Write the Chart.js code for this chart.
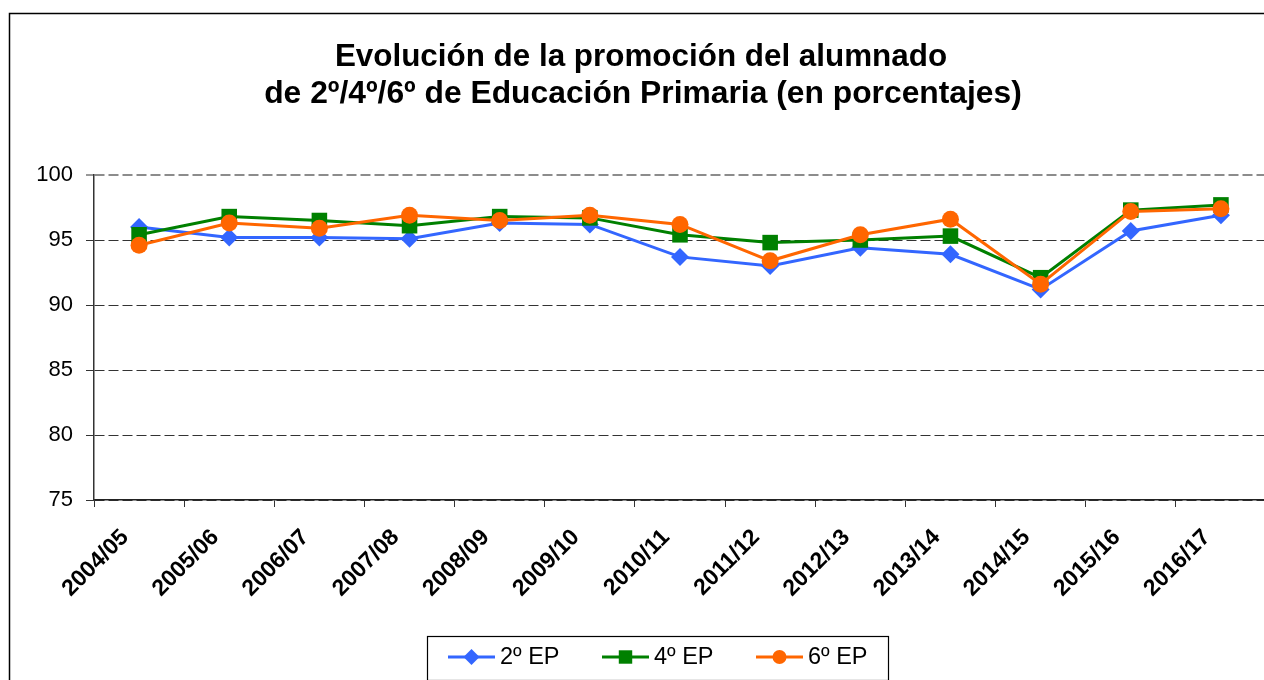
<!DOCTYPE html>
<html>
<head>
<meta charset="utf-8">
<script src="https://cdn.jsdelivr.net/npm/chart.js@4.4.1/dist/chart.umd.min.js"></script>
<style>
  html, body { margin: 0; padding: 0; background: #fff; overflow: hidden; width: 1264px; height: 680px; }
  #c { position: absolute; left: 0; top: 0; }
</style>
</head>
<body>
<canvas id="c" width="1282" height="700"></canvas>
<script>
const categories = ['2004/05','2005/06','2006/07','2007/08','2008/09','2009/10','2010/11','2011/12','2012/13','2013/14','2014/15','2015/16','2016/17'];
const ep2 = [96.0, 95.2, 95.2, 95.1, 96.3, 96.2, 93.7, 93.0, 94.4, 93.9, 91.2, 95.7, 96.9];
const ep4 = [95.4, 96.8, 96.5, 96.1, 96.8, 96.7, 95.4, 94.8, 95.0, 95.3, 92.1, 97.3, 97.7];
const ep6 = [94.6, 96.3, 95.9, 96.9, 96.5, 96.9, 96.2, 93.4, 95.4, 96.6, 91.6, 97.2, 97.4];
const seriesNames = ['2º EP', '4º EP', '6º EP'];
const yTicks = [75, 80, 85, 90, 95, 100];
const titleLines = ['Evolución de la promoción del alumnado', 'de 2º/4º/6º de Educación Primaria (en porcentajes)'];

const FONT = '"Liberation Sans", Arial, sans-serif';
const BLUE = '#3366FF', GREEN = '#008000', ORANGE = '#FF6600';

function marker(ctx, style, x, y, r, color) {
  ctx.save();
  ctx.fillStyle = color;
  ctx.beginPath();
  if (style === 'rectRot') {
    ctx.moveTo(x - r, y); ctx.lineTo(x, y - r); ctx.lineTo(x + r, y); ctx.lineTo(x, y + r); ctx.closePath();
  } else if (style === 'rect') {
    const s = r * Math.SQRT1_2;
    ctx.rect(x - s, y - s, 2 * s, 2 * s);
  } else {
    ctx.arc(x, y, r, 0, Math.PI * 2);
  }
  ctx.fill();
  ctx.restore();
}

const framePlugin = {
  id: 'frame',
  beforeDraw(chart) {
    const ctx = chart.ctx;
    ctx.save();
    ctx.fillStyle = '#fff';
    ctx.fillRect(0, 0, chart.width, chart.height);
    ctx.strokeStyle = '#000';
    ctx.lineWidth = 1.5;
    ctx.strokeRect(9.5, 13.5, chart.width + 50, chart.height + 50);
    // title
    ctx.fillStyle = '#000';
    ctx.textAlign = 'center';
    ctx.textBaseline = 'alphabetic';
    const cx = chart.width / 2;
    ctx.font = 'bold 31.4px ' + FONT;
    ctx.fillText(titleLines[0], cx, 66);
    ctx.font = 'bold 31.8px ' + FONT;
    ctx.fillText(titleLines[1], cx + 2, 103);
    ctx.restore();
  },
  afterDraw(chart) {
    const ctx = chart.ctx;
    const area = chart.chartArea;
    const top = area.bottom + 136;
    const left = 427, w = 461, h = 44;
    ctx.save();
    ctx.fillStyle = '#fff';
    ctx.fillRect(left, top, w, h);
    ctx.strokeStyle = '#000';
    ctx.lineWidth = 1.2;
    ctx.strokeRect(left + 0.5, top + 0.5, w, h);
    const midY = top + 21;
    chart.data.datasets.forEach((ds, i) => {
      const x0 = left + 21 + i * 154;
      ctx.strokeStyle = ds.borderColor;
      ctx.lineWidth = 3;
      ctx.beginPath();
      ctx.moveTo(x0, midY); ctx.lineTo(x0 + 47, midY);
      ctx.stroke();
      const r = ds.pointStyle === 'rect' ? 9.5 : (ds.pointStyle === 'rectRot' ? 8 : 7);
      marker(ctx, ds.pointStyle, x0 + 23.5, midY, r, ds.borderColor);
      ctx.fillStyle = '#000';
      ctx.font = '23.5px ' + FONT;
      ctx.textAlign = 'left';
      ctx.textBaseline = 'middle';
      ctx.fillText(ds.label, x0 + 52, midY + 1);
    });
    ctx.restore();
  }
};

const ctx = document.getElementById('c').getContext('2d');
new Chart(ctx, {
  type: 'line',
  data: {
    labels: categories,
    datasets: [
      { label: seriesNames[0], data: ep2, borderColor: BLUE, backgroundColor: BLUE, pointBackgroundColor: BLUE, pointBorderColor: BLUE, pointStyle: 'rectRot', pointRadius: 9, pointBorderWidth: 0, borderWidth: 3, order: 2, tension: 0 },
      { label: seriesNames[1], data: ep4, borderColor: GREEN, backgroundColor: GREEN, pointBackgroundColor: GREEN, pointBorderColor: GREEN, pointStyle: 'rect', pointRadius: 11, pointBorderWidth: 0, borderWidth: 3, order: 1, tension: 0 },
      { label: seriesNames[2], data: ep6, borderColor: ORANGE, backgroundColor: ORANGE, pointBackgroundColor: ORANGE, pointBorderColor: ORANGE, pointStyle: 'circle', pointRadius: 8.5, pointBorderWidth: 0, borderWidth: 3, order: 0, tension: 0 }
    ]
  },
  options: {
    responsive: false,
    animation: false,
    devicePixelRatio: 1,
    layout: { padding: { top: 175, left: 0, right: 16, bottom: 80 } },
    plugins: { legend: { display: false }, title: { display: false }, tooltip: { enabled: false } },
    scales: {
      x: {
        type: 'category',
        offset: true,
        grid: { display: true, offset: true, drawOnChartArea: false, drawTicks: true, tickLength: 7, tickColor: '#333', tickWidth: 1 },
        border: { display: true, color: '#222', width: 1.5 },
        ticks: { color: '#000', font: { family: FONT, size: 23, weight: 'bold' }, minRotation: 45, maxRotation: 45, padding: 17, labelOffset: -14, autoSkip: false },
        afterFit(scale) { scale.height = 120; }
      },
      y: {
        min: 75, max: 100,
        afterBuildTicks(scale) { scale.ticks = yTicks.map(v => ({ value: v })); },
        grid: {
          color: (c) => (c.tick && c.tick.value === 100) ? '#8c8c8c' : '#333',
          lineWidth: (c) => (c.tick && c.tick.value === 100) ? 2 : 1,
          drawTicks: true, tickLength: 8, tickColor: '#333', tickWidth: 1, tickBorderDash: []
        },
        border: { display: true, color: '#333', width: 1.5, dash: [10, 4] },
        ticks: { color: '#000', font: { family: FONT, size: 22 }, padding: 13 },
        afterFit(scale) { scale.width = 94; }
      }
    }
  },
  plugins: [framePlugin]
});
</script>
</body>
</html>
